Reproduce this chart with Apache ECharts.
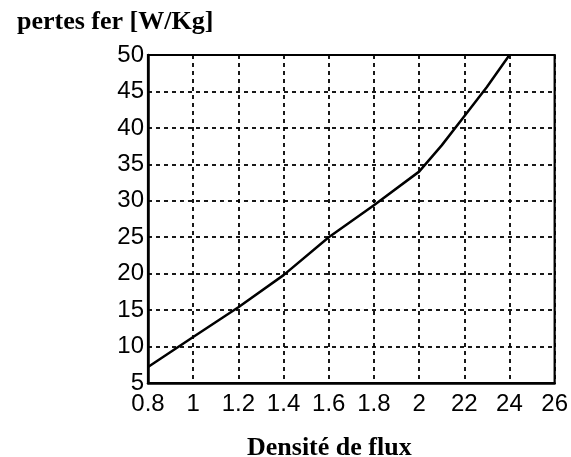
<!DOCTYPE html>
<html><head><meta charset="utf-8">
<script src="https://cdn.jsdelivr.net/npm/echarts@6/dist/echarts.min.js"></script>
<style>html,body{margin:0;padding:0;background:#fff}#c{width:571px;height:457px}</style>
</head><body><div id="c"></div>
<script>
const fluxDensity = [0.8, 1.0, 1.2, 1.4, 1.6, 1.8, 2.0, 2.1, 2.2, 2.3, 2.4];
const ironLoss    = [7.2, 11.3, 15.4, 19.8, 25.0, 29.4, 34.0, 37.6, 41.6, 45.6, 50.0];
const xTickLabels = ['0.8', '1', '1.2', '1.4', '1.6', '1.8', '2', '22', '24', '26'];
const yTickValues = [5, 10, 15, 20, 25, 30, 35, 40, 45, 50];
const yTitle = 'pertes fer [W/Kg]';
const xTitle = 'Densité de flux';

const chart = echarts.init(document.getElementById('c'), null, {renderer: 'canvas'});
const gridLine = {show: true, lineStyle: {color: '#000', width: 1.8, type: [4, 4]}};
chart.setOption({
  animation: false,
  backgroundColor: '#fff',
  title: [
    {text: yTitle, left: 12, top: 4, textStyle: {fontFamily: 'Liberation Serif', fontWeight: 'bold', fontSize: 26, color: '#000'}},
    {text: xTitle, left: 242, top: 430, textStyle: {fontFamily: 'Liberation Serif', fontWeight: 'bold', fontSize: 26, color: '#000'}}
  ],
  grid: {left: 148, top: 55, right: 12, bottom: 74, show: true, borderColor: '#000', borderWidth: 2.2, backgroundColor: 'transparent'},
  xAxis: {
    type: 'value', min: 0.8, max: 2.6, interval: 0.2,
    axisLine: {show: true, lineStyle: {color: '#000', width: 2.5}},
    axisTick: {show: false},
    splitLine: gridLine,
    axisLabel: {
      color: '#000', fontFamily: 'Liberation Sans', fontSize: 24, margin: 9,
      formatter: v => xTickLabels[Math.round((v - 0.8) / 0.2)] || ''
    }
  },
  yAxis: {
    type: 'value', min: yTickValues[0], max: yTickValues[yTickValues.length - 1], interval: 5,
    axisLine: {show: true, lineStyle: {color: '#000', width: 2.5}},
    axisTick: {show: false},
    splitLine: gridLine,
    axisLabel: {color: '#000', fontFamily: 'Liberation Sans', fontSize: 24, margin: 4}
  },
  series: [{
    type: 'line',
    data: fluxDensity.map((x, i) => [x, ironLoss[i]]),
    showSymbol: false,
    lineStyle: {color: '#000', width: 2.5, join: 'round'},
    z: 5
  }]
});
</script></body></html>
